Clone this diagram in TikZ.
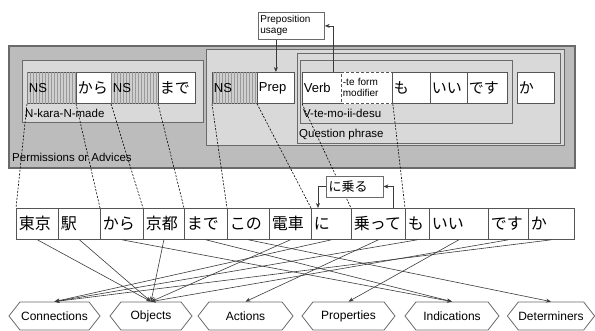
\documentclass[tikz,border=0pt]{standalone}
\usepackage{fontspec}
\setmainfont{Liberation Sans}
\newfontfamily\jp{Noto Sans CJK JP}
\usetikzlibrary{arrows.meta,patterns,shapes.symbols}
\definecolor{outerfill}{HTML}{BCBCBC}
\definecolor{innerfill}{HTML}{D9D9D9}
\definecolor{boxline}{HTML}{6A6A6A}
\definecolor{cellline}{HTML}{555555}
\definecolor{lineclr}{HTML}{3A3A3A}
\definecolor{hatchbase}{HTML}{CFCFCF}
\definecolor{hatchline}{HTML}{9A9A9A}
\begin{document}
\begin{tikzpicture}[x=1pt,y=-1pt,
  frame/.style={draw=boxline, line width=1pt, fill=innerfill},
  pcell/.style={draw=cellline, line width=0.8pt, fill=white, anchor=north west,
    minimum height=31pt, inner xsep=1.5pt, inner ysep=0pt, align=left,
    font=\fontsize{13}{13}\selectfont},
  jpcell/.style={pcell, font=\jp\fontsize{15}{15}\selectfont},
  nscell/.style={pcell, fill=hatchbase, postaction={pattern=vertical lines, pattern color=hatchline}},
  wcell/.style={draw=cellline, line width=0.8pt, fill=white, anchor=north west,
    minimum height=31pt, inner xsep=2.5pt, inner ysep=0pt, align=left,
    font=\jp\fontsize{16}{16}\selectfont},
  lbl/.style={font=\fontsize{11.5}{12}\selectfont, anchor=west, inner sep=0pt},
  hex/.style={shape=signal, signal to=west and east, signal pointer angle=104,
    draw=boxline, line width=0.8pt, fill=white, minimum height=28pt, inner sep=0pt,
    font=\fontsize{12}{12}\selectfont},
  arr/.style={draw=lineclr, line width=0.6pt, -{Stealth[length=5pt,width=4pt]}},
  dline/.style={draw=black, line width=0.6pt, dash pattern=on 2pt off 1.5pt},
  note/.style={draw=boxline, line width=0.8pt, fill=white, align=left}
]
\useasboundingbox (0,0) rectangle (595,331);

% group boxes
\draw[draw=boxline, line width=1.5pt, fill=outerfill] (9,46) rectangle (575,168);
\draw[frame] (22,61) rectangle (203,123);
\draw[frame] (206,50) rectangle (564,146);
\draw[frame] (297,54) rectangle (560,144);
\draw[frame] (300,61) rectangle (512,124);

\node[lbl] (lperm) at (12,157) {Permissions or Advices};
\node[lbl] (lkara) at (25,113) {N-kara-N-made};
\node[lbl] (lte) at (303,113) {V-te-mo-ii-desu};
\node[lbl] (lq) at (299,135) {Question phrase};

% pattern cells
\node[nscell, text width=46pt] (ns1) at (27,72) {NS};
\node[jpcell, text width=32pt] (kara) at (76,72) {から};
\node[nscell, text width=44pt] (ns2) at (111,72) {NS};
\node[jpcell, text width=34pt] (made) at (158,72) {まで};
\node[nscell, text width=42pt] (ns3) at (212,72) {NS};
\node[pcell, text width=34pt] (prep) at (257,72) {Prep};
\node[pcell, text width=36pt] (verb) at (302,72) {Verb};
\node[pcell, text width=48pt, draw=white, postaction={draw=cellline, dash pattern=on 3pt off 2pt},
  font=\fontsize{10}{11}\selectfont] (temod) at (341,72) {-te form\\modifier};
\node[jpcell, text width=35pt] (mo) at (392,72) {も};
\node[jpcell, text width=34pt] (ii) at (430,72) {いい};
\node[jpcell, text width=37pt] (desu) at (467,72) {です};
\node[jpcell, text width=34pt] (ka) at (517,72) {か};

% Preposition usage note
\node[note, anchor=north west, text width=62pt, inner xsep=2pt, inner ysep=2.5pt,
  minimum height=27pt, font=\fontsize{10}{11}\selectfont] (pu) at (258,12) {Preposition\\usage};
\draw[arr] (pu.south -| prep.north) -- (prep.north);
\draw[arr] ([xshift=-9pt]verb.north east) |- (pu.east);

% word row
\node[wcell, text width=37pt] (w1) at (16,208) {東京};
\node[wcell, text width=37pt] (w2) at (58,208) {駅};
\node[wcell, text width=38pt] (w3) at (100,208) {から};
\node[wcell, text width=36pt] (w4) at (143,208) {京都};
\node[wcell, text width=38pt] (w5) at (184,208) {まで};
\node[wcell, text width=37pt] (w6) at (227,208) {この};
\node[wcell, text width=37pt] (w7) at (269,208) {電車};
\node[wcell, text width=35pt] (w8) at (311,208) {に};
\node[wcell, text width=49pt] (w9) at (351,208) {乗って};
\node[wcell, text width=19pt] (w10) at (405,208) {も};
\node[wcell, text width=54pt] (w11) at (429,208) {いい};
\node[wcell, text width=35pt] (w12) at (488,208) {です};
\node[wcell, text width=41pt] (w13) at (528,208) {か};

% dashed correspondences
\draw[dline] (ns1.south west) -- (w1.north west);
\draw[dline] (kara.south west) -- (w3.north west);
\draw[dline] (ns2.south west) -- (w4.north west);
\draw[dline] (made.south west) -- (w5.north west);
\draw[dline] (ns3.south west) -- (w6.north west);
\draw[dline] (prep.south west) -- (w8.north west);
\draw[dline] (verb.south west) -- (w9.north west);
\draw[dline] (temod.south east) -- (w10.north west);

% に乗る note
\node[note, text width=52pt, inner xsep=2.5pt, inner ysep=0pt, minimum height=21pt,
  font=\jp\fontsize{13}{13}\selectfont] (nr) at (354.5,186.5) {に乗る};
\draw[arr] ([xshift=-13pt]w9.north east) |- (nr.east);
\draw[arr] (nr.west) -| ([xshift=7pt]w8.north west);

% categories
\node[hex, minimum width=91pt] (conn) at (54.5,316) {Connections};
\node[hex, minimum width=82pt] (obj) at (151,316) {Objects};
\node[hex, minimum width=95pt] (act) at (245.5,316) {Actions};
\node[hex, minimum width=93pt] (prop) at (348.5,316) {Properties};
\node[hex, minimum width=94pt] (ind) at (452,316) {Indications};
\node[hex, minimum width=86pt] (det) at (551,316) {Determiners};

% word -> category
\draw[arr] (w1.south) -- (obj.north);
\draw[arr] (w2.south) -- (obj.north);
\draw[arr] (w3.south) -- (ind.north);
\draw[arr] (w4.south) -- (obj.north);
\draw[arr] (w5.south) -- (ind.north);
\draw[arr] (w6.south) -- (det.north);
\draw[arr] (w7.south) -- (obj.north);
\draw[arr] (w8.south) -- (conn.north);
\draw[arr] (w9.south) -- (act.north);
\draw[arr] (w10.south) -- (conn.north);
\draw[arr] (w11.south) -- (prop.north);
\draw[arr] (w12.south) -- (obj.north);
\draw[arr] (w13.south) -- (conn.north);
\end{tikzpicture}
\end{document}
